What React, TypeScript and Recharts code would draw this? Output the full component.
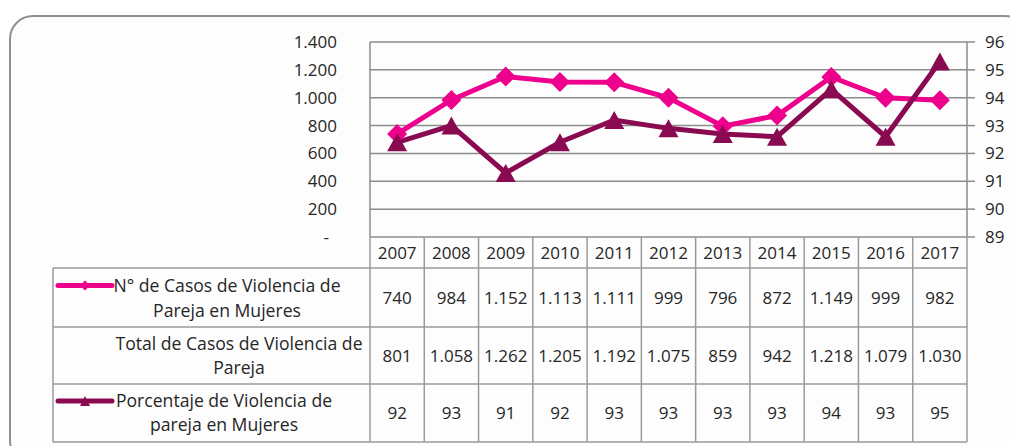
import React from 'react';
import { ComposedChart, Line, XAxis, YAxis, CartesianGrid } from 'recharts';

const years = ['2007', '2008', '2009', '2010', '2011', '2012', '2013', '2014', '2015', '2016', '2017'];
const casosMujeres = [740, 984, 1152, 1113, 1111, 999, 796, 872, 1149, 999, 982];
const totalCasos = [801, 1058, 1262, 1205, 1192, 1075, 859, 942, 1218, 1079, 1030];
const porcentaje = [92.4, 93.0, 91.3, 92.4, 93.2, 92.9, 92.7, 92.6, 94.3, 92.6, 95.3];
const leftTicks = [0, 200, 400, 600, 800, 1000, 1200, 1400];
const rightTicks = [89, 90, 91, 92, 93, 94, 95, 96];

const rowLabels = [
  ['N° de Casos de Violencia de', 'Pareja en Mujeres'],
  ['Total de Casos de Violencia de', 'Pareja'],
  ['Porcentaje de Violencia de', 'pareja en Mujeres'],
];

const data = years.map((y, i) => ({
  year: y,
  casos: casosMujeres[i],
  total: totalCasos[i],
  pct: porcentaje[i],
}));

const PINK = '#EC008C';
const DARK = '#8A0A52';
const GRID = '#8c8c8c';
const TABLE = '#9a9a9a';
const TXT = '#262626';
const FONT = '"Open Sans", sans-serif';
const FS = 17;
const FS_LABEL = 17.6;

const fmt = (v: number) => {
  if (v === 0) return '-';
  return String(Math.round(v)).replace(/\B(?=(\d{3})+(?!\d))/g, '.');
};

// table row geometry (relative to plot bottom)
const HEADER_H = 31;
const ROW_H = [59, 57, 58];

const LeftTick = (props: any) => {
  const { x, y, payload } = props;
  const v = payload.value;
  return (
    <text x={v === 0 ? x - 8 : x} y={y} dy={6} textAnchor="end" fontFamily={FONT} fontSize={FS} fill={TXT}>
      {fmt(v)}
    </text>
  );
};

const RightTick = (props: any) => {
  const { x, y, payload } = props;
  return (
    <text x={x} y={y} dy={6} textAnchor="start" fontFamily={FONT} fontSize={FS} fill={TXT}>
      {payload.value}
    </text>
  );
};

const TableTick = (props: any) => {
  const { x, y, payload } = props;
  const idx = payload.index ?? years.indexOf(payload.value);
  const half = payload.offset || 27.14;
  const top = y;
  const r0 = top + HEADER_H;
  const r1 = r0 + ROW_H[0];
  const r2 = r1 + ROW_H[1];
  const r3 = r2 + ROW_H[2];
  const rows = [
    fmt(casosMujeres[idx]),
    fmt(totalCasos[idx]),
    String(Math.round(porcentaje[idx])),
  ];
  const mids = [(r0 + r1) / 2, (r1 + r2) / 2, (r2 + r3) / 2];
  return (
    <g>
      {idx === 0 && <line x1={x - half} x2={x - half} y1={top} y2={r3} stroke={TABLE} strokeWidth={1.5} />}
      <line x1={x + half} x2={x + half} y1={top} y2={r3} stroke={TABLE} strokeWidth={1.5} />
      <text x={x} y={top + HEADER_H / 2} dy={6} textAnchor="middle" fontFamily={FONT} fontSize={FS} fill={TXT}>
        {payload.value}
      </text>
      {rows.map((t, k) => (
        <text key={k} x={x} y={mids[k]} dy={6} textAnchor="middle" fontFamily={FONT} fontSize={FS} fill={TXT}>
          {t}
        </text>
      ))}
    </g>
  );
};

const Diamond = (props: any) => {
  const { cx, cy } = props;
  if (cx == null || cy == null) return null;
  const r = 10;
  return <polygon points={`${cx},${cy - r} ${cx + r},${cy} ${cx},${cy + r} ${cx - r},${cy}`} fill={PINK} />;
};

const Triangle = (props: any) => {
  const { cx, cy } = props;
  if (cx == null || cy == null) return null;
  return <polygon points={`${cx},${cy - 9} ${cx + 10},${cy + 9} ${cx - 10},${cy + 9}`} fill={DARK} />;
};

const TableFrame = () => {
  const top = 237;
  const r0 = top + HEADER_H;
  const r1 = r0 + ROW_H[0];
  const r2 = r1 + ROW_H[1];
  const r3 = r2 + ROW_H[2];
  const left = 53;
  const right = 967;
  const lines = [r0, r1, r2, r3];
  const centers = [227, 239, 224];
  const ys = [
    [(r0 + r1) / 2 - 12, (r0 + r1) / 2 + 13],
    [(r1 + r2) / 2 - 12, (r1 + r2) / 2 + 12],
    [(r2 + r3) / 2 - 12, (r2 + r3) / 2 + 12],
  ];
  return (
    <g>
      {lines.map((ly, i) => (
        <line key={i} x1={left} x2={right} y1={ly} y2={ly} stroke={TABLE} strokeWidth={1.5} />
      ))}
      <line x1={left} x2={left} y1={r0} y2={r3} stroke={TABLE} strokeWidth={1.5} />
      {rowLabels.map((lab, i) =>
        lab.map((t, j) => (
          <text key={`${i}-${j}`} x={centers[i]} y={ys[i][j]} dy={6} textAnchor="middle" fontFamily={FONT} fontSize={FS_LABEL} fill={TXT}>
            {t}
          </text>
        ))
      )}
      {/* legend keys */}
      <line x1={58} x2={112} y1={ys[0][0]} y2={ys[0][0]} stroke={PINK} strokeWidth={5} strokeLinecap="round" />
      <polygon points={`85,${ys[0][0] - 5} 90,${ys[0][0]} 85,${ys[0][0] + 5} 80,${ys[0][0]}`} fill={PINK} />
      <line x1={58} x2={112} y1={ys[2][0]} y2={ys[2][0]} stroke={DARK} strokeWidth={5} strokeLinecap="round" />
      <polygon points={`85,${ys[2][0] - 5} 90,${ys[2][0] + 5} 80,${ys[2][0] + 5}`} fill={DARK} />
    </g>
  );
};

export default function App() {
  return (
    <div style={{ position: 'absolute', left: 0, top: 0, width: 1010, height: 446, background: '#ffffff' }}>
      <div
        style={{
          position: 'absolute',
          left: 9,
          top: 15,
          width: 1020,
          height: 450,
          border: '2px solid #8f8f8f',
          borderRadius: 24,
          background: '#fdfdfd',
          boxSizing: 'border-box',
        }}
      />
      <div style={{ position: 'absolute', left: 0, top: 0 }}>
        <ComposedChart width={1010} height={446} data={data} margin={{ top: 42, right: 0, bottom: 0, left: 0 }}>
          <CartesianGrid yAxisId="l" vertical={false} stroke={GRID} strokeWidth={1.5} />
          <XAxis
            dataKey="year"
            scale="band"
            height={209}
            axisLine={false}
            tickLine={false}
            tickSize={0}
            tickMargin={0}
            interval={0}
            tick={<TableTick />}
          />
          <YAxis
            yAxisId="l"
            width={370}
            domain={[0, 1400]}
            ticks={leftTicks}
            interval={0}
            axisLine={{ stroke: GRID, strokeWidth: 1.5 }}
            tickLine={false}
            tickSize={0}
            tickMargin={33}
            tick={<LeftTick />}
          />
          <YAxis
            yAxisId="r"
            orientation="right"
            width={43}
            domain={[89, 96]}
            ticks={rightTicks}
            interval={0}
            axisLine={{ stroke: GRID, strokeWidth: 1.5 }}
            tickLine={{ stroke: GRID, strokeWidth: 1.5 }}
            tickSize={8}
            tickMargin={10}
            tick={<RightTick />}
          />
          <Line
            yAxisId="l"
            dataKey="casos"
            stroke={PINK}
            strokeWidth={5}
            dot={<Diamond />}
            activeDot={false}
            isAnimationActive={false}
          />
          <Line
            yAxisId="r"
            dataKey="pct"
            stroke={DARK}
            strokeWidth={5}
            dot={<Triangle />}
            activeDot={false}
            isAnimationActive={false}
          />
          <TableFrame />
        </ComposedChart>
      </div>
    </div>
  );
}
